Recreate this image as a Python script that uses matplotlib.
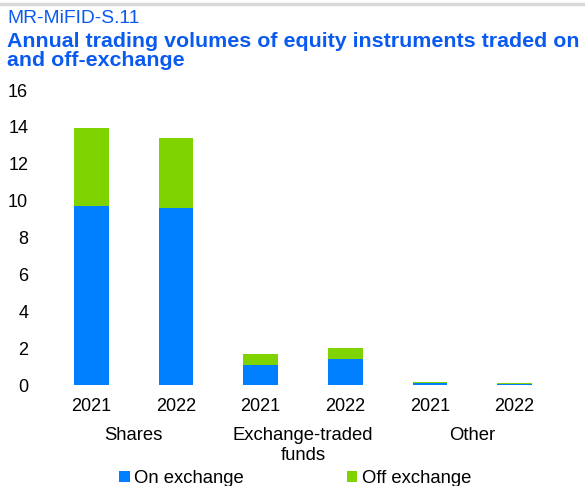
import matplotlib.pyplot as plt
import numpy as np

plt.rcParams['font.family'] = ['Liberation Sans', 'DejaVu Sans']

# Data
groups = ["Shares", "Exchange-traded\nfunds", "Other"]
years = ["2021", "2022", "2021", "2022", "2021", "2022"]
on_exchange = [9.7, 9.6, 1.08, 1.41, 0.09, 0.05]
off_exchange = [4.25, 3.8, 0.6, 0.6, 0.09, 0.06]

BLUE = "#0080FF"
GREEN = "#7FD300"
TITLE_BLUE = "#0A5AF0"

fig = plt.figure(figsize=(5.85, 4.86), dpi=100)
ax = fig.add_axes([49 / 585, 1 - 385 / 486, 508 / 585, 295 / 486])

x = np.arange(len(years))
ax.bar(x, on_exchange, width=0.41, color=BLUE, label="On exchange")
ax.bar(x, off_exchange, width=0.41, bottom=on_exchange, color=GREEN, label="Off exchange")

ax.set_xlim(-0.5, len(years) - 0.5)
ax.set_ylim(0, 16)
ax.set_yticks(range(0, 17, 2))
ax.set_xticks(x)
ax.set_xticklabels(years)
ax.tick_params(axis='both', length=0, labelsize=13)
ax.tick_params(axis='x', pad=9)
ax.tick_params(axis='y', pad=15)
for s in ax.spines.values():
    s.set_visible(False)

# group labels under the year labels
for i, g in enumerate(groups):
    ax.text(2 * i + 0.5, -0.143, g, transform=ax.get_xaxis_transform(),
            ha='center', va='top', fontsize=13.3, linespacing=1.2)

# titles
fig.add_artist(plt.Line2D([0, 1], [1 - 4.5 / 486, 1 - 4.5 / 486], color="#d9d9d9", lw=2.5))
fig.text(7 / 585, 1 - 10 / 486, "MR-MiFID-S.11", color=TITLE_BLUE, fontsize=13.9,
         ha='left', va='top')
fig.text(7 / 585, 1 - 32 / 486,
         "Annual trading volumes of equity instruments traded on\nand off-exchange",
         color=TITLE_BLUE, fontsize=15.4, fontweight='bold', ha='left', va='top',
         linespacing=1.0)

fig.legend(loc='lower center', bbox_to_anchor=(0.505, -0.037), ncol=2, frameon=False,
           fontsize=13.3, handlelength=0.55, handleheight=0.55, handletextpad=0.25,
           columnspacing=5.6)

fig.savefig("out.png", dpi=100)
